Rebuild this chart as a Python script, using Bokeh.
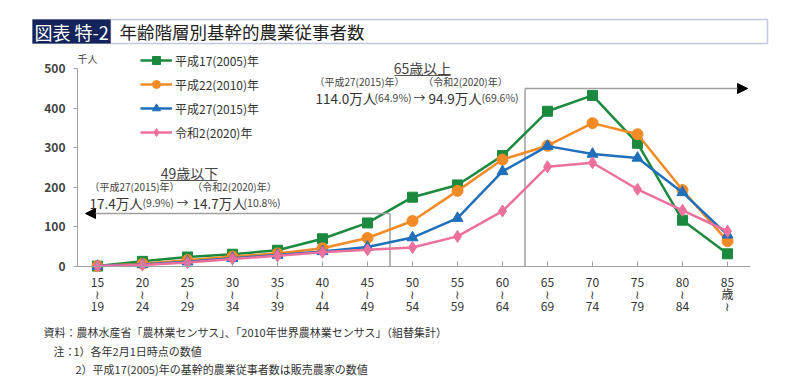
from bokeh.plotting import figure
from bokeh.models import (Range1d, FixedTicker, Label, Arrow, NormalHead,
                          Legend, LegendItem, BoxAnnotation)
from bokeh.embed import file_html
from bokeh.resources import INLINE

# ---------------- data ----------------
ages = [15, 20, 25, 30, 35, 40, 45, 50, 55, 60, 65, 70, 75, 80, 85]
tick_labels = ["15\n≀\n19", "20\n≀\n24", "25\n≀\n29", "30\n≀\n34", "35\n≀\n39",
               "40\n≀\n44", "45\n≀\n49", "50\n≀\n54", "55\n≀\n59", "60\n≀\n64",
               "65\n≀\n69", "70\n≀\n74", "75\n≀\n79", "80\n≀\n84", "85\n歳\n≀"]
y_ticks = [0, 100, 200, 300, 400, 500]

series_names = ["平成17(2005)年", "平成22(2010)年", "平成27(2015)年", "令和2(2020)年"]
s2005 = [1, 13, 24, 31, 41, 70, 110, 175, 206, 280, 392, 432, 311, 117, 32]
s2010 = [1, 7, 16, 25, 33, 46, 72, 115, 191, 270, 305, 362, 334, 193, 64]
s2015 = [1, 5, 12, 21, 29, 38, 49, 73, 122, 240, 304, 284, 274, 187, 80]
s2020 = [1, 4, 10, 19, 27, 36, 42, 48, 76, 140, 252, 262, 195, 142, 89]

bracket_ages = [47.5, 62.5]   # boundary between 45-49 / 50-54 and 60-64 / 65-69

# ---------------- layout helpers ----------------
FONT = "Noto Sans CJK JP"
W, H = 800, 377
AX_L, AX_R = 77, 750
PX_PER_YEAR = 9.0
X15_PX = 97.0
Y0_PX = 266.0
PX_PER_UNIT = 0.396


def xd(px):
    return 15 + (px - X15_PX) / PX_PER_YEAR


def yd(py):
    return (Y0_PX - py) / PX_PER_UNIT


p = figure(width=W, height=H, output_backend="svg", toolbar_location=None,
           x_range=Range1d(xd(0), xd(W)), y_range=Range1d(yd(H), yd(0)),
           min_border=0, min_border_left=0, min_border_right=0,
           min_border_top=0, min_border_bottom=0)
p.outline_line_color = None
p.grid.visible = False
p.background_fill_color = "white"
p.border_fill_color = "white"

# axes
ax = p.xaxis[0]
ax.ticker = FixedTicker(ticks=ages)
ax.major_label_overrides = {a: t for a, t in zip(ages, tick_labels)}
ax.fixed_location = 0
ax.bounds = (xd(AX_L), xd(AX_R))
ax.axis_line_color = "#a0a0a0"
ax.major_tick_line_color = "#a0a0a0"
ax.major_tick_in = 5
ax.major_tick_out = 0
ax.minor_tick_line_color = None
ax.major_label_standoff = 6
ax.major_label_text_font = FONT
ax.major_label_text_font_size = "12px"
ax.major_label_text_color = "#333333"
ax.major_label_text_line_height = 0.72

ay = p.yaxis[0]
ay.ticker = FixedTicker(ticks=y_ticks)
ay.fixed_location = xd(AX_L)
ay.bounds = (0, 500)
ay.axis_line_color = "#a0a0a0"
ay.major_tick_line_color = "#a0a0a0"
ay.major_tick_in = 0
ay.major_tick_out = 4
ay.minor_tick_line_color = None
ay.major_label_standoff = 8
ay.major_label_text_font = FONT
ay.major_label_text_font_size = "12px"
ay.major_label_text_font_style = "bold"
ay.major_label_text_color = "#444444"

# brackets (49歳以下 / 65歳以上)
p.segment(x0=[bracket_ages[0], bracket_ages[1]], y0=[0, 0],
          x1=[bracket_ages[0], bracket_ages[1]], y1=[yd(213), yd(88)],
          line_color="#a0a0a0", line_width=1.5)
p.add_layout(Arrow(end=NormalHead(size=10, fill_color="black", line_color="black"),
                   x_start=bracket_ages[0], y_start=yd(213), x_end=xd(85), y_end=yd(213),
                   line_color="#a0a0a0", line_width=1.5))
p.add_layout(Arrow(end=NormalHead(size=10, fill_color="black", line_color="black"),
                   x_start=bracket_ages[1], y_start=yd(88), x_end=xd(747), y_end=yd(88),
                   line_color="#a0a0a0", line_width=1.5))

# series
colors = ["#1b8a3e", "#f28a26", "#1f6fbb", "#ec709d"]
markers = ["square", "circle", "triangle", "diamond"]
sizes = [10, 11, 11, 12]
items = []
for name, vals, c, m, s in zip(series_names, [s2005, s2010, s2015, s2020], colors, markers, sizes):
    lr = p.line(ages, vals, line_color=c, line_width=2.5)
    sr = p.scatter(ages, vals, marker=m, size=s, fill_color=c, line_color=c)
    items.append(LegendItem(label=name, renderers=[lr, sr]))

leg = Legend(items=items, location=(140, H - 142),
             glyph_width=32, glyph_height=20, label_height=20, spacing=4,
             label_standoff=3, padding=0, margin=0,
             background_fill_alpha=0, border_line_color=None,
             label_text_font=FONT, label_text_font_size="12px", label_text_color="#333333")
p.add_layout(leg, "center")

# title
p.add_layout(BoxAnnotation(left=xd(32), right=xd(110), top=yd(19), bottom=yd(43),
                           fill_color="#14235a", fill_alpha=1, line_color="#14235a"))
p.add_layout(BoxAnnotation(left=xd(110), right=xd(767), top=yd(19), bottom=yd(43),
                           fill_alpha=0, line_color="#3c4a9c", line_width=1.5))


def lab(text, px, py, size, color="#333333", align="left", style="normal"):
    p.add_layout(Label(x=xd(px), y=yd(py), text=text, text_font=FONT,
                       text_font_size=f"{size}px", text_color=color, text_align=align,
                       text_baseline="middle", text_font_style=style))


lab("図表 特-2", 34, 31, 18, color="white")
lab("年齢階層別基幹的農業従事者数", 119, 31, 17.5, color="#222222")
lab("千人", 77, 58, 10, color="#444444")

# 65歳以上
lab("65歳以上", 422, 67, 14, align="center", color="#444444")
p.segment(x0=[xd(394)], y0=[yd(75)], x1=[xd(450)], y1=[yd(75)], line_color="#555555", line_width=1)
lab("（平成27(2015)年）", 359, 81, 10, align="center", color="#444444")
lab("（令和2(2020)年）", 465, 81, 10, align="center", color="#444444")
lab("114.0万人", 315, 97, 13.5, color="#333333")
lab("(64.9%)", 374, 97, 10.5, color="#444444")
lab("→", 413, 97, 12, color="#333333")
lab("94.9万人", 428, 97, 13.5, color="#333333")
lab("(69.6%)", 481, 97, 10.5, color="#444444")

# 49歳以下
lab("49歳以下", 189, 172, 14, align="center", color="#444444")
p.segment(x0=[xd(160)], y0=[yd(180)], x1=[xd(217)], y1=[yd(180)], line_color="#555555", line_width=1)
lab("（平成27(2015)年）", 134, 186, 10, align="center", color="#444444")
lab("（令和2(2020)年）", 234, 186, 10, align="center", color="#444444")
lab("17.4万人", 89, 202, 13.5, color="#333333")
lab("(9.9%)", 142, 202, 10.5, color="#444444")
lab("→", 176, 202, 12, color="#333333")
lab("14.7万人", 192, 202, 13.5, color="#333333")
lab("(10.8%)", 243, 202, 10.5, color="#444444")

# notes
lab("資料：農林水産省「農林業センサス」、「2010年世界農林業センサス」（組替集計）", 43, 331, 11, color="#333333")
lab("注：", 53, 350, 11, color="#333333")
lab("1）各年2月1日時点の数値", 73, 350, 11, color="#333333")
lab("2）平成17(2005)年の基幹的農業従事者数は販売農家の数値", 75, 368, 11, color="#333333")

open("out.html", "w").write(file_html(p, INLINE))
